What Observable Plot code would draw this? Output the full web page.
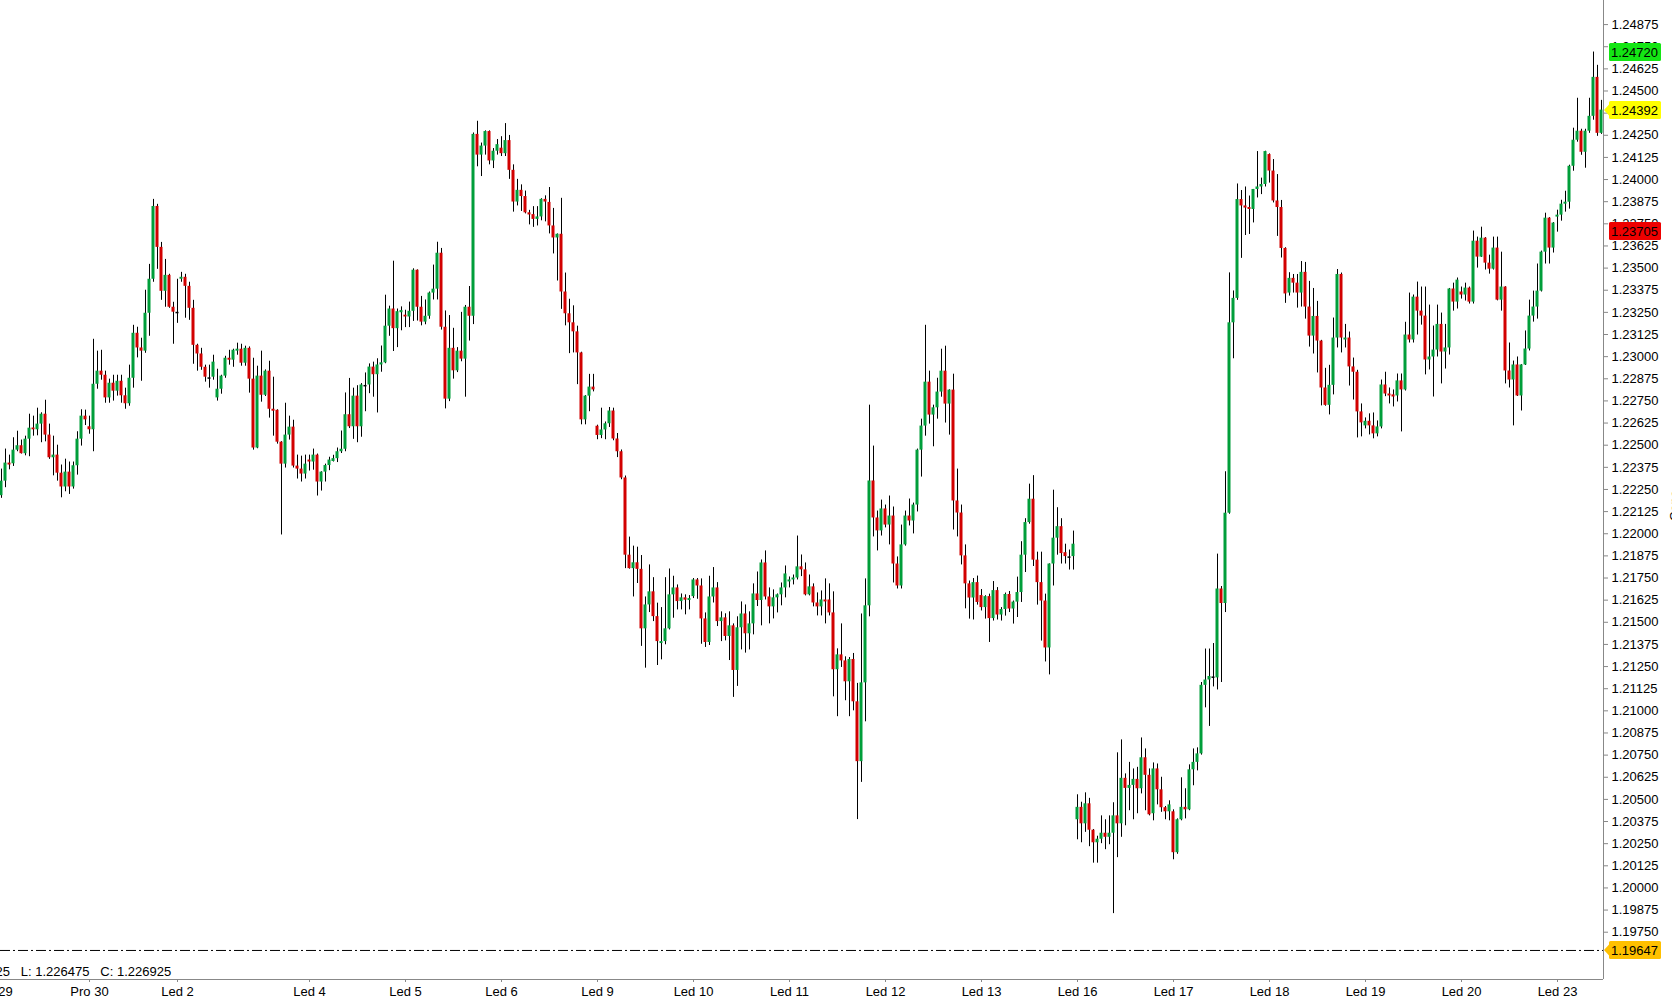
<!DOCTYPE html>
<html><head><meta charset="utf-8">
<script src="https://cdn.jsdelivr.net/npm/d3@7"></script>
<script src="https://cdn.jsdelivr.net/npm/@observablehq/plot@0.6"></script>
<style>
html,body{margin:0;padding:0;background:#fff;}
#chart{width:1672px;height:998px;overflow:hidden;}
</style></head><body><div id="chart"></div>
<script>
const opens = [
1.22215,1.22297,1.22399,1.22395,1.22472,1.22497,1.22452,1.22534,1.22597,1.22587,
1.22619,1.22675,1.22557,1.22429,1.22444,1.22342,1.22264,1.22348,1.22264,1.22384,
1.22534,1.22664,1.22604,1.22587,1.22844,1.22918,1.22895,1.22767,1.22850,1.22805,
1.22861,1.22779,1.22734,1.22878,1.23132,1.23049,1.23031,1.23245,1.23437,1.23848,
1.23617,1.23369,1.23459,1.23279,1.23249,1.23437,1.23448,1.23397,1.23273,1.23064,
1.23015,1.22940,1.22879,1.22884,1.22767,1.22816,1.22890,1.22991,1.22980,1.23031,
1.23042,1.22963,1.23047,1.22873,1.22484,1.22890,1.22782,1.22918,1.22703,1.22697,
1.22517,1.22393,1.22557,1.22602,1.22382,1.22365,1.22337,1.22416,1.22405,1.22444,
1.22292,1.22348,1.22385,1.22408,1.22424,1.22463,1.22477,1.22672,1.22604,1.22777,
1.22604,1.22836,1.22840,1.22941,1.22898,1.22953,1.22965,1.23172,1.23269,1.23158,
1.23248,1.23234,1.23224,1.23256,1.23488,1.23279,1.23195,1.23228,1.23359,1.23381,
1.23584,1.23166,1.22760,1.23047,1.22920,1.23031,1.22986,1.23279,1.23228,1.24255,
1.24138,1.24189,1.24271,1.24105,1.24160,1.24177,1.24146,1.24220,1.24052,1.23873,
1.23939,1.23904,1.23812,1.23802,1.23775,1.23789,1.23888,1.23871,1.23738,1.23670,
1.23691,1.23365,1.23242,1.23191,1.23140,1.23021,1.22643,1.22777,1.22828,1.22607,
1.22555,1.22586,1.22621,1.22693,1.22535,1.22463,1.22315,1.21879,1.21803,1.21836,
1.21799,1.21463,1.21598,1.21672,1.21532,1.21380,1.21391,1.21463,1.21655,1.21694,
1.21617,1.21638,1.21623,1.21645,1.21739,1.21705,1.21519,1.21386,1.21643,1.21694,
1.21504,1.21525,1.21420,1.21480,1.21228,1.21469,1.21547,1.21435,1.21491,1.21660,
1.21623,1.21835,1.21643,1.21587,1.21638,1.21655,1.21694,1.21728,1.21739,1.21750,
1.21813,1.21796,1.21655,1.21700,1.21609,1.21587,1.21626,1.21626,1.21553,1.21232,
1.21316,1.21282,1.21164,1.21290,1.21051,1.20713,1.21158,1.21593,1.22298,1.22089,
1.22016,1.22140,1.22049,1.22100,1.21829,1.21705,1.21937,1.22100,1.22072,1.22162,
1.22472,1.22608,1.22856,1.22670,1.22711,1.22800,1.22918,1.22732,1.22811,1.22185,
1.22117,1.21875,1.21717,1.21637,1.21724,1.21651,1.21583,1.21645,1.21521,1.21679,
1.21541,1.21572,1.21657,1.21575,1.21614,1.21668,1.21879,1.22063,1.22195,1.21851,
1.21724,1.21620,1.21355,1.21829,1.21975,1.22040,1.21893,1.21868,1.21871,1.20385,
1.20455,1.20362,1.20475,1.20326,1.20255,1.20275,1.20309,1.20286,1.20309,1.20407,
1.20362,1.20619,1.20562,1.20579,1.20613,1.20560,1.20735,1.20636,1.20419,1.20672,
1.20554,1.20453,1.20430,1.20430,1.20199,1.20385,1.20455,1.20441,1.20667,1.20709,
1.20757,1.21144,1.21174,1.21190,1.21186,1.21688,1.21606,1.22116,1.23191,1.23329,
1.23887,1.23851,1.23842,1.23831,1.23944,1.23958,1.23972,1.24141,1.24048,1.23879,
1.23842,1.23611,1.23359,1.23442,1.23415,1.23359,1.23476,1.23280,1.23116,1.23227,
1.23088,1.22823,1.22725,1.22838,1.23105,1.23464,1.23094,1.23105,1.22942,1.22912,
1.22688,1.22609,1.22635,1.22609,1.22564,1.22603,1.22840,1.22789,1.22784,1.22778,
1.22863,1.22812,1.23122,1.23094,1.23336,1.23257,1.23229,1.22981,1.22998,1.23037,
1.23182,1.23026,1.23049,1.23382,1.23308,1.23365,1.23348,1.23387,1.23308,1.23652,
1.23562,1.23669,1.23528,1.23494,1.23613,1.23319,1.23393,1.22919,1.22868,1.22953,
1.22778,1.22953,1.23043,1.23229,1.23280,1.23370,1.23590,1.23782,1.23613,1.23788,
1.23799,1.23861,1.23872,1.24075,1.24222,1.24273,1.24154,1.24273,1.24357,1.24577,
1.24261];
const highs = [
1.22365,1.22478,1.22444,1.22542,1.22579,1.22529,1.22551,1.22675,1.22664,1.22709,
1.22683,1.22754,1.22619,1.22551,1.22500,1.22388,1.22421,1.22405,1.22405,1.22576,
1.22700,1.22698,1.22664,1.23098,1.23031,1.23036,1.22918,1.22873,1.22895,1.22895,
1.22895,1.22822,1.22952,1.23177,1.23166,1.23104,1.23375,1.23521,1.23888,1.23860,
1.23645,1.23549,1.23465,1.23307,1.23437,1.23476,1.23465,1.23420,1.23318,1.23070,
1.23047,1.22952,1.22952,1.23008,1.22929,1.22895,1.23002,1.23036,1.23042,1.23076,
1.23070,1.23059,1.23055,1.22991,1.22946,1.23031,1.22925,1.22974,1.22884,1.22700,
1.22520,1.22737,1.22664,1.22641,1.22444,1.22438,1.22444,1.22444,1.22478,1.22450,
1.22350,1.22393,1.22432,1.22443,1.22484,1.22580,1.22795,1.22877,1.22822,1.22836,
1.22848,1.22908,1.22959,1.22969,1.22988,1.23060,1.23347,1.23285,1.23539,1.23269,
1.23281,1.23262,1.23308,1.23496,1.23490,1.23340,1.23320,1.23365,1.23517,1.23646,
1.23611,1.23258,1.23232,1.23160,1.23051,1.23250,1.23289,1.23396,1.24263,1.24329,
1.24206,1.24275,1.24275,1.24175,1.24226,1.24242,1.24316,1.24249,1.24083,1.24001,
1.23970,1.23935,1.23826,1.23847,1.23847,1.23892,1.23908,1.23955,1.23837,1.23693,
1.23894,1.23472,1.23324,1.23287,1.23172,1.23025,1.22780,1.22900,1.22900,1.22613,
1.22709,1.22631,1.22713,1.22709,1.22566,1.22473,1.22326,1.21981,1.21930,1.21924,
1.21877,1.21643,1.21824,1.21752,1.21608,1.21583,1.21752,1.21801,1.21760,1.21711,
1.21660,1.21655,1.21651,1.21747,1.21747,1.21745,1.21553,1.21760,1.21809,1.21724,
1.21559,1.21548,1.21559,1.21491,1.21531,1.21615,1.21598,1.21559,1.21717,1.21784,
1.21852,1.21903,1.21694,1.21683,1.21660,1.21722,1.21818,1.21756,1.21767,1.21987,
1.21880,1.21835,1.21767,1.21717,1.21666,1.21677,1.21745,1.21717,1.21672,1.21350,
1.21491,1.21305,1.21301,1.21324,1.21155,1.21547,1.21745,1.22726,1.22495,1.22128,
1.22190,1.22162,1.22213,1.22151,1.21869,1.22049,1.22128,1.22196,1.22173,1.22478,
1.22647,1.23177,1.22918,1.22726,1.22878,1.23042,1.23059,1.22813,1.22901,1.22365,
1.22162,1.21937,1.21733,1.21747,1.21761,1.21685,1.21650,1.21659,1.21730,1.21696,
1.21583,1.21665,1.21674,1.21620,1.21755,1.21955,1.22085,1.22280,1.22328,1.21896,
1.21896,1.21659,1.21830,1.22246,1.22147,1.22085,1.21941,1.21908,1.22015,1.20526,
1.20484,1.20537,1.20506,1.20330,1.20292,1.20407,1.20385,1.20407,1.20481,1.20763,
1.20836,1.20644,1.20709,1.20672,1.20681,1.20847,1.20785,1.20672,1.20706,1.20700,
1.20625,1.20460,1.20492,1.20441,1.20390,1.20622,1.20560,1.20695,1.20785,1.20791,
1.21160,1.21349,1.21349,1.21380,1.21885,1.21702,1.22350,1.23473,1.23371,1.23975,
1.23938,1.23958,1.23907,1.23944,1.24158,1.24008,1.24160,1.24145,1.24113,1.24028,
1.23882,1.23615,1.23474,1.23464,1.23464,1.23537,1.23532,1.23425,1.23385,1.23312,
1.23092,1.22934,1.22951,1.23218,1.23492,1.23472,1.23182,1.23139,1.22992,1.22923,
1.22733,1.22654,1.22677,1.22682,1.22637,1.22868,1.22912,1.22823,1.22812,1.22902,
1.22902,1.23194,1.23359,1.23348,1.23421,1.23393,1.23393,1.23291,1.23173,1.23291,
1.23246,1.23182,1.23385,1.23415,1.23444,1.23393,1.23415,1.23393,1.23709,1.23675,
1.23731,1.23672,1.23573,1.23675,1.23675,1.23590,1.23395,1.23077,1.22975,1.22998,
1.22955,1.23145,1.23319,1.23370,1.23523,1.23596,1.23810,1.23785,1.23757,1.23827,
1.23883,1.23934,1.24081,1.24290,1.24459,1.24284,1.24284,1.24459,1.24720,1.24645,
1.24447];
const lows = [
1.22200,1.22260,1.22361,1.22380,1.22463,1.22450,1.22440,1.22435,1.22551,1.22553,
1.22514,1.22519,1.22420,1.22327,1.22297,1.22203,1.22237,1.22222,1.22252,1.22331,
1.22495,1.22611,1.22562,1.22463,1.22816,1.22867,1.22737,1.22737,1.22749,1.22777,
1.22737,1.22703,1.22720,1.22822,1.22993,1.22861,1.23019,1.23115,1.23420,1.23493,
1.23318,1.23279,1.23273,1.23070,1.23188,1.23420,1.23217,1.23205,1.22957,1.22918,
1.22923,1.22856,1.22822,1.22867,1.22749,1.22788,1.22878,1.22952,1.22940,1.23008,
1.22946,1.22946,1.22794,1.22472,1.22480,1.22743,1.22775,1.22653,1.22551,1.22506,
1.21993,1.22371,1.22529,1.22371,1.22309,1.22292,1.22309,1.22354,1.22359,1.22213,
1.22241,1.22292,1.22356,1.22405,1.22402,1.22453,1.22463,1.22594,1.22533,1.22514,
1.22545,1.22689,1.22791,1.22771,1.22682,1.22912,1.22960,1.23115,1.23029,1.23051,
1.23146,1.23164,1.23164,1.23199,1.23201,1.23174,1.23180,1.23211,1.23320,1.23320,
1.23150,1.22705,1.22746,1.22873,1.22910,1.22971,1.22771,1.23088,1.23181,1.24072,
1.24017,1.24138,1.24083,1.24062,1.24138,1.24130,1.24130,1.24001,1.23816,1.23851,
1.23820,1.23806,1.23744,1.23730,1.23738,1.23767,1.23761,1.23693,1.23580,1.23427,
1.23267,1.23174,1.23017,1.23021,1.22842,1.22615,1.22615,1.22689,1.22801,1.22531,
1.22537,1.22531,1.22600,1.22525,1.22430,1.22305,1.21803,1.21800,1.21643,1.21719,
1.21364,1.21241,1.21555,1.21504,1.21256,1.21288,1.21373,1.21457,1.21523,1.21570,
1.21570,1.21542,1.21570,1.21634,1.21630,1.21376,1.21358,1.21369,1.21609,1.21476,
1.21391,1.21395,1.21284,1.21076,1.21138,1.21344,1.21326,1.21344,1.21429,1.21589,
1.21480,1.21626,1.21491,1.21519,1.21553,1.21593,1.21638,1.21694,1.21711,1.21739,
1.21758,1.21649,1.21649,1.21587,1.21536,1.21536,1.21491,1.21536,1.21079,1.20967,
1.21245,1.21057,1.20967,1.21000,1.20386,1.20596,1.20938,1.21531,1.21982,1.21903,
1.21987,1.22033,1.21937,1.21722,1.21688,1.21688,1.21930,1.22044,1.21999,1.22123,
1.22320,1.22551,1.22619,1.22491,1.22647,1.22771,1.22625,1.22557,1.22021,1.21982,
1.21824,1.21576,1.21518,1.21513,1.21597,1.21564,1.21518,1.21386,1.21507,1.21513,
1.21507,1.21535,1.21555,1.21490,1.21527,1.21612,1.21781,1.22054,1.21815,1.21597,
1.21394,1.21276,1.21203,1.21705,1.21879,1.21829,1.21829,1.21795,1.21795,1.20272,
1.20255,1.20314,1.20233,1.20140,1.20140,1.20250,1.20216,1.20244,1.19855,1.20171,
1.20286,1.20351,1.20436,1.20385,1.20419,1.20531,1.20436,1.20407,1.20379,1.20469,
1.20427,1.20385,1.20379,1.20159,1.20190,1.20379,1.20390,1.20436,1.20577,1.20661,
1.20750,1.21017,1.20912,1.21135,1.21118,1.21160,1.21555,1.22110,1.22988,1.23318,
1.23555,1.23684,1.23690,1.23755,1.23896,1.23915,1.23958,1.23980,1.23868,1.23679,
1.23557,1.23301,1.23342,1.23359,1.23274,1.23280,1.23212,1.23054,1.23015,1.22908,
1.22722,1.22720,1.22671,1.22784,1.23049,1.23021,1.23049,1.22834,1.22755,1.22541,
1.22547,1.22592,1.22558,1.22536,1.22547,1.22592,1.22774,1.22733,1.22716,1.22744,
1.22575,1.22806,1.23077,1.23077,1.23122,1.23178,1.22897,1.22925,1.22772,1.22998,
1.22846,1.22930,1.23009,1.23257,1.23269,1.23325,1.23314,1.23297,1.23297,1.23500,
1.23560,1.23489,1.23466,1.23489,1.23315,1.23257,1.22846,1.22823,1.22609,1.22775,
1.22693,1.22950,1.23032,1.23195,1.23212,1.23365,1.23523,1.23523,1.23585,1.23703,
1.23765,1.23816,1.23833,1.24047,1.24211,1.24137,1.24064,1.24261,1.24335,1.24244,
1.24255];
const closes = [
1.22297,1.22399,1.22388,1.22472,1.22497,1.22452,1.22534,1.22596,1.22587,1.22619,
1.22675,1.22557,1.22429,1.22444,1.22342,1.22264,1.22348,1.22264,1.22384,1.22534,
1.22664,1.22643,1.22587,1.22844,1.22918,1.22895,1.22767,1.22850,1.22805,1.22861,
1.22779,1.22734,1.22878,1.23132,1.23049,1.23031,1.23245,1.23437,1.23848,1.23617,
1.23369,1.23459,1.23279,1.23251,1.23249,1.23448,1.23397,1.23273,1.23064,1.23015,
1.22940,1.22884,1.22879,1.22969,1.22816,1.22890,1.22991,1.22980,1.23036,1.23042,
1.22963,1.23047,1.22873,1.22484,1.22890,1.22782,1.22918,1.22703,1.22692,1.22517,
1.22393,1.22557,1.22602,1.22382,1.22365,1.22337,1.22393,1.22405,1.22444,1.22292,
1.22348,1.22385,1.22416,1.22424,1.22463,1.22477,1.22672,1.22604,1.22777,1.22604,
1.22840,1.22836,1.22941,1.22898,1.22953,1.22965,1.23172,1.23269,1.23158,1.23254,
1.23260,1.23224,1.23256,1.23488,1.23279,1.23195,1.23228,1.23359,1.23381,1.23584,
1.23166,1.22760,1.23047,1.22920,1.23031,1.22986,1.23279,1.23228,1.24255,1.24138,
1.24189,1.24271,1.24105,1.24160,1.24197,1.24146,1.24220,1.24052,1.23873,1.23939,
1.23904,1.23812,1.23800,1.23775,1.23789,1.23888,1.23873,1.23738,1.23670,1.23691,
1.23365,1.23242,1.23191,1.23140,1.23021,1.22643,1.22777,1.22828,1.22812,1.22555,
1.22586,1.22621,1.22693,1.22535,1.22463,1.22315,1.21879,1.21803,1.21836,1.21799,
1.21463,1.21598,1.21672,1.21532,1.21391,1.21391,1.21463,1.21655,1.21694,1.21617,
1.21638,1.21625,1.21634,1.21739,1.21705,1.21519,1.21386,1.21643,1.21694,1.21504,
1.21525,1.21420,1.21480,1.21228,1.21469,1.21547,1.21435,1.21491,1.21660,1.21623,
1.21835,1.21643,1.21587,1.21638,1.21655,1.21694,1.21773,1.21739,1.21750,1.21813,
1.21796,1.21655,1.21700,1.21609,1.21587,1.21626,1.21615,1.21553,1.21232,1.21316,
1.21282,1.21164,1.21290,1.21051,1.20713,1.21158,1.21593,1.22298,1.22089,1.22016,
1.22140,1.22049,1.22100,1.21829,1.21705,1.21937,1.22100,1.22072,1.22162,1.22472,
1.22608,1.22856,1.22670,1.22711,1.22800,1.22918,1.22732,1.22811,1.22185,1.22117,
1.21875,1.21717,1.21637,1.21724,1.21612,1.21583,1.21645,1.21521,1.21679,1.21541,
1.21572,1.21657,1.21575,1.21614,1.21668,1.21879,1.22063,1.22195,1.21851,1.21724,
1.21620,1.21355,1.21829,1.21975,1.22040,1.21888,1.21871,1.21868,1.21941,1.20455,
1.20362,1.20475,1.20326,1.20255,1.20275,1.20309,1.20286,1.20309,1.20407,1.20362,
1.20619,1.20562,1.20579,1.20613,1.20560,1.20735,1.20636,1.20413,1.20672,1.20554,
1.20453,1.20430,1.20469,1.20199,1.20385,1.20455,1.20441,1.20667,1.20709,1.20757,
1.21144,1.21174,1.21194,1.21190,1.21688,1.21606,1.22116,1.23191,1.23329,1.23887,
1.23851,1.23839,1.23831,1.23944,1.23958,1.23972,1.24158,1.24048,1.23879,1.23842,
1.23611,1.23354,1.23442,1.23415,1.23359,1.23476,1.23280,1.23116,1.23227,1.23088,
1.22823,1.22725,1.22838,1.23105,1.23464,1.23105,1.23105,1.22942,1.22912,1.22688,
1.22626,1.22635,1.22609,1.22564,1.22603,1.22840,1.22789,1.22778,1.22772,1.22863,
1.22812,1.23122,1.23094,1.23336,1.23257,1.23229,1.22981,1.22998,1.23037,1.23182,
1.23026,1.23049,1.23382,1.23308,1.23432,1.23348,1.23387,1.23308,1.23652,1.23562,
1.23669,1.23528,1.23494,1.23613,1.23319,1.23393,1.22919,1.22868,1.22953,1.22778,
1.22953,1.23043,1.23229,1.23280,1.23370,1.23590,1.23782,1.23613,1.23754,1.23799,
1.23861,1.23872,1.24075,1.24222,1.24273,1.24154,1.24273,1.24357,1.24577,1.24261,
1.24392];

const xTickIdx = [-2, 22, 44, 77, 101, 125, 149, 173, 197, 221, 245, 269, 293, 317, 341, 365, 389];
const xTickLabels = ["Pro 29", "Pro 30", "Led 2", "Led 4", "Led 5", "Led 6", "Led 9", "Led 10", "Led 11",
  "Led 12", "Led 13", "Led 16", "Led 17", "Led 18", "Led 19", "Led 20", "Led 23"];
const yTicks = [1.19750, 1.19875, 1.20000, 1.20125, 1.20250, 1.20375, 1.20500, 1.20625, 1.20750, 1.20875,
  1.21000, 1.21125, 1.21250, 1.21375, 1.21500, 1.21625, 1.21750, 1.21875, 1.22000, 1.22125,
  1.22250, 1.22375, 1.22500, 1.22625, 1.22750, 1.22875, 1.23000, 1.23125, 1.23250, 1.23375,
  1.23500, 1.23625, 1.23750, 1.23875, 1.24000, 1.24125, 1.24250, 1.24375, 1.24500, 1.24625,
  1.24750, 1.24875];
const tagValues = [1.24720, 1.24392, 1.23705, 1.19647];
const tagColors = ["#14e614", "#ffff00", "#ee0000", "#ffc000"];
const tagArrows = [false, true, false, true];
const levelLine = 1.19647;
const infoText = "25\u00a0\u00a0\u00a0L: 1.226475\u00a0\u00a0\u00a0C: 1.226925";
const axisTitle = "Cena";

const candles = opens.map((o, i) => ({i, open: o, high: highs[i], low: lows[i], close: closes[i]}));
const ups = candles.filter(d => d.close > d.open);
const downs = candles.filter(d => d.close < d.open);
const dojis = candles.filter(d => d.close === d.open);
const tickLabel = new Map(xTickIdx.map((k, j) => [k, xTickLabels[j]]));
const hw = 0.375;

const chart = Plot.plot({
  width: 1672, height: 998,
  marginLeft: 0, marginRight: 69, marginTop: 0, marginBottom: 19,
  style: {fontFamily: "'Liberation Sans', Arial, sans-serif", fontSize: "13px", background: "#fff", color: "#000", overflow: "hidden"},
  x: {type: "linear", domain: [-0.25, 400.5]},
  y: {domain: [1.19483, 1.25011]},
  marks: [
    Plot.ruleY([levelLine], {stroke: "#000", strokeWidth: 1, strokeDasharray: "10,3,2,3"}),
    Plot.ruleX(candles, {x: "i", y1: "low", y2: "high", stroke: "#000", strokeWidth: 1}),
    Plot.rect(ups, {x1: d => d.i - hw, x2: d => d.i + hw, y1: "open", y2: "close", fill: "#009e3a"}),
    Plot.rect(downs, {x1: d => d.i - hw, x2: d => d.i + hw, y1: "open", y2: "close", fill: "#d20000"}),
    Plot.ruleY(dojis, {y: "open", x1: d => d.i - hw, x2: d => d.i + hw, stroke: "#000", strokeWidth: 1.5}),
    Plot.ruleX([400.5], {stroke: "#888"}),
    Plot.ruleY([1.19483], {stroke: "#888"}),
    Plot.axisY({anchor: "right", ticks: yTicks, tickFormat: d => d.toFixed(5), tickSize: 4, tickPadding: 4,
      stroke: "#888", fill: "#000", label: null}),
    Plot.axisX({anchor: "bottom", ticks: xTickIdx, tickFormat: d => tickLabel.get(d), tickSize: 3, tickPadding: 4,
      stroke: "#888", fill: "#000", label: null}),
    Plot.text([infoText], {text: d => d, frameAnchor: "bottom-left", textAnchor: "start", lineAnchor: "middle",
      dx: -5, dy: -8, fill: "#000"}),
    Plot.text([axisTitle], {text: d => d, frameAnchor: "right", rotate: -90, dx: 71, fill: "#000"})
  ]
});

document.getElementById("chart").appendChild(chart);

// price tags on the right axis, positioned with Plot's own y scale
const ys = chart.scale("y");
const xEdge = chart.scale("x").range[1];
const g = d3.select(chart).append("g")
  .attr("font-family", "'Liberation Sans', Arial, sans-serif").attr("font-size", 13)
  .attr("text-anchor", "start");
tagValues.forEach((v, j) => {
  const cy = Math.round(ys.apply(v));
  if (tagArrows[j]) {
    g.append("path").attr("d", `M${xEdge + 1},${cy}L${xEdge + 6.5},${cy - 6}L${xEdge + 6.5},${cy + 6}Z`)
      .attr("fill", tagColors[j]);
  }
  g.append("rect").attr("x", xEdge + 6).attr("y", cy - 9).attr("width", 52).attr("height", 18)
    .attr("rx", 1.5).attr("fill", tagColors[j]);
  g.append("text").attr("x", xEdge + 8).attr("y", cy).attr("dy", "0.36em").attr("fill", "#000")
    .attr("text-anchor", "start").text(v.toFixed(5));
});
</script></body></html>
